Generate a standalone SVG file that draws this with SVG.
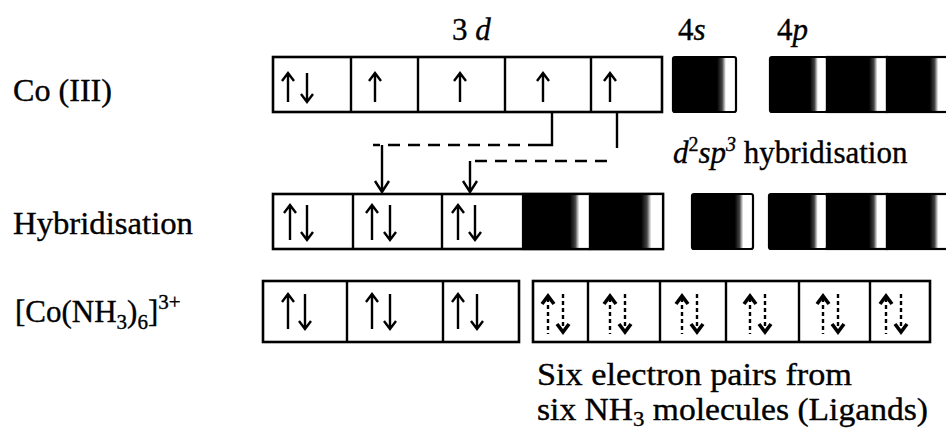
<svg xmlns="http://www.w3.org/2000/svg" xmlns:xlink="http://www.w3.org/1999/xlink" width="946" height="434" viewBox="0 0 946 434">
<style>
  text { font-family: "Liberation Serif", "Times New Roman", serif; fill: #000; stroke: #000; stroke-width: 0.35; }
  .lbl { font-size: 31px; }
  .it { font-style: italic; }
  .box { fill: #fff; stroke: #000; stroke-width: 2.6; }
  .div { stroke: #000; stroke-width: 2.4; }
  .blk { fill: url(#shade); stroke: #000; stroke-width: 2.2; }
  .ar { fill: none; stroke: #000; stroke-width: 2.4; stroke-linecap: butt; }
  .arh { fill: none; stroke: #000; stroke-width: 3.6; }
  .dash { fill: none; stroke: #000; stroke-width: 2.4; stroke-dasharray: 4 3; }
  .con { fill: none; stroke: #000; stroke-width: 2.4; }
  .cdash { fill: none; stroke: #000; stroke-width: 2.4; stroke-dasharray: 12 8; }
</style>
<defs>
  <linearGradient id="shade" x1="0" y1="0" x2="1" y2="0">
    <stop offset="0" stop-color="#000"/>
    <stop offset="0.7" stop-color="#000"/>
    <stop offset="0.78" stop-color="#444"/>
    <stop offset="0.84" stop-color="#fff"/>
    <stop offset="1" stop-color="#fff"/>
  </linearGradient>
  <g id="up30"><path class="ar" d="M0,1 V30 M-6,9 L0,1 L6,9"/></g>
  <g id="dn30"><path class="ar" d="M0,0 V29 M-6,21 L0,29 L6,21"/></g>
  <g id="up36"><path class="ar" d="M0,1 V36 M-6,9 L0,1 L6,9"/></g>
  <g id="dn36"><path class="ar" d="M0,0 V35 M-6,27 L0,35 L6,27"/></g>
  <g id="lig">
    <path class="arh" d="M-6,10 L0,2 L6,10"/>
    <path class="dash" d="M0,4 V40"/>
    <path class="dash" d="M15,0 V36"/>
    <path class="arh" d="M9,30 L15,38 L21,30"/>
  </g>
</defs>
<rect width="946" height="434" fill="#fff"/>

<g id="headers">
  <text class="lbl" x="452" y="40">3 <tspan class="it">d</tspan></text>
  <text class="lbl" x="678" y="40">4<tspan class="it">s</tspan></text>
  <text class="lbl" x="777" y="40">4<tspan class="it">p</tspan></text>
</g>

<g id="row-labels">
  <text class="lbl" x="13" y="101" textLength="99" lengthAdjust="spacingAndGlyphs">Co (III)</text>
  <text class="lbl" x="13" y="234" textLength="180" lengthAdjust="spacingAndGlyphs">Hybridisation</text>
  <text class="lbl" x="15" y="322">[Co(NH<tspan font-size="21" dy="7">3</tspan><tspan dy="-7">)</tspan><tspan font-size="21" dy="7">6</tspan><tspan dy="-7">]</tspan><tspan font-size="21" dy="-13">3+</tspan></text>
</g>

<g id="co-iii">
  <rect class="box" x="273" y="57" width="389" height="55"/>
  <line class="div" x1="351" y1="57" x2="351" y2="112"/>
  <line class="div" x1="418" y1="57" x2="418" y2="112"/>
  <line class="div" x1="505" y1="57" x2="505" y2="112"/>
  <line class="div" x1="591" y1="57" x2="591" y2="112"/>
  <use href="#up30" x="288" y="72"/>
  <use href="#dn30" x="307" y="73"/>
  <use href="#up30" x="375" y="72"/>
  <use href="#up30" x="460" y="72"/>
  <use href="#up30" x="543" y="72"/>
  <use href="#up30" x="610" y="72"/>
  <rect class="blk" x="673" y="57" width="63" height="55" rx="2"/>
  <rect class="blk" x="770" y="57" width="57" height="55" rx="2"/>
  <rect class="blk" x="827" y="57" width="60" height="55"/>
  <rect class="blk" x="887" y="57" width="61" height="55"/>
</g>

<g id="hybrid-label">
  <text class="lbl" x="673" y="163"><tspan class="it">d</tspan><tspan font-size="20" dy="-12">2</tspan><tspan class="it" dy="12">sp</tspan><tspan class="it" font-size="20" dy="-12">3</tspan><tspan dy="12"> hybridisation</tspan></text>
</g>

<g id="hybridisation">
  <rect class="box" x="273" y="194" width="390" height="55"/>
  <line class="div" x1="353" y1="194" x2="353" y2="249"/>
  <line class="div" x1="442" y1="194" x2="442" y2="249"/>
  <use href="#up36" x="290" y="204"/>
  <use href="#dn36" x="307" y="205"/>
  <use href="#up36" x="372" y="204"/>
  <use href="#dn36" x="390" y="205"/>
  <use href="#up36" x="458" y="204"/>
  <use href="#dn36" x="475" y="205"/>
  <rect class="blk" x="523" y="194" width="67" height="55"/>
  <rect class="blk" x="590" y="194" width="73" height="55"/>
  <rect class="blk" x="692" y="194" width="61" height="55" rx="2"/>
  <rect class="blk" x="769" y="194" width="58" height="55" rx="2"/>
  <rect class="blk" x="827" y="194" width="60" height="55"/>
  <rect class="blk" x="887" y="194" width="61" height="55"/>
</g>

<g id="complex-inner">
  <rect class="box" x="263" y="281" width="256" height="61"/>
  <line class="div" x1="347" y1="281" x2="347" y2="342"/>
  <line class="div" x1="443" y1="281" x2="443" y2="342"/>
  <use href="#up36" x="288" y="293"/>
  <use href="#dn36" x="305" y="294"/>
  <use href="#up36" x="372" y="293"/>
  <use href="#dn36" x="390" y="294"/>
  <use href="#up36" x="458" y="293"/>
  <use href="#dn36" x="477" y="294"/>
</g>

<g id="complex-ligands">
  <rect class="box" x="533" y="281" width="397" height="61"/>
  <line class="div" x1="588" y1="281" x2="588" y2="342"/>
  <line class="div" x1="660" y1="281" x2="660" y2="342"/>
  <line class="div" x1="726" y1="281" x2="726" y2="342"/>
  <line class="div" x1="799" y1="281" x2="799" y2="342"/>
  <line class="div" x1="870" y1="281" x2="870" y2="342"/>
  <use href="#lig" x="548" y="294"/>
  <use href="#lig" x="610" y="294"/>
  <use href="#lig" x="682" y="294"/>
  <use href="#lig" x="750" y="294"/>
  <use href="#lig" x="823" y="294"/>
  <use href="#lig" x="886" y="294"/>
</g>

<g id="ligand-note">
  <text class="lbl" x="537" y="385" textLength="315" lengthAdjust="spacingAndGlyphs">Six electron pairs from</text>
  <text class="lbl" x="537" y="420" textLength="391" lengthAdjust="spacingAndGlyphs">six NH<tspan font-size="21" dy="6">3</tspan><tspan dy="-6"> molecules (Ligands)</tspan></text>
</g>

<g id="connectors">
  <path class="con" d="M552,112 V145 H540"/>
  <path class="cdash" d="M540,145 H373"/>
  <path class="con" d="M382,145 V192 M375,181 L382,192 L389,181"/>
  <path class="con" d="M617,112 V148"/>
  <path class="cdash" d="M607,161 H468"/>
  <path class="con" d="M470,161 V192 M463,181 L470,192 L477,181"/>
</g>
</svg>
